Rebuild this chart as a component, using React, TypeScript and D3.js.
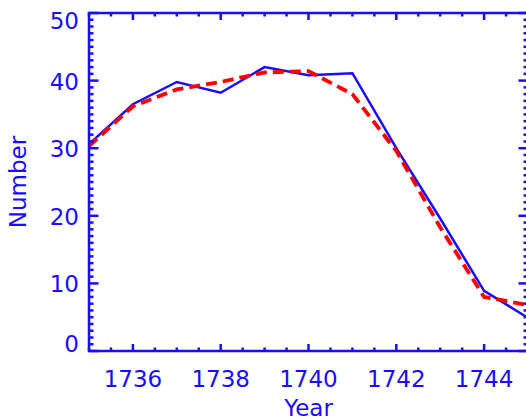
import React from "react";
import * as d3 from "d3";

const years = [1735, 1736, 1737, 1738, 1739, 1740, 1741, 1742, 1743, 1744, 1745];
const observed = [30.6, 36.5, 39.8, 38.2, 42.0, 40.8, 41.1, 30.0, 19.6, 8.9, 4.9];
const smoothed = [30.3, 36.2, 38.7, 39.8, 41.2, 41.4, 38.0, 29.6, 18.3, 8.0, 6.8];
const xTickLabels = [1736, 1738, 1740, 1742, 1744];
const yTickLabels = [0, 10, 20, 30, 40, 50];

const W = 526, H = 420;
const left = 89, right = 528, top = 13, bottom = 351;
const BLUE = "#1a0dff";
const RED = "#ff0000";
const FONT = "DejaVu Sans";

export default function App() {
  const x = d3.scaleLinear().domain([1735, 1745]).range([left, right]);
  const y = d3.scaleLinear().domain([0, 50]).range([bottom, top]);
  const line = d3.line<number>().x((_, i) => x(years[i])).y((d) => y(d));

  const xMinor = d3.range(1735, 1745.01, 0.5);
  const yMinor = d3.range(0, 50.01, 1);
  const xMajLen = 7, xMinLen = 3.5, yMajLen = 9.5, yMinLen = 4.5;

  const yLabelPos = (v: number) => {
    if (v === 50) return y(v) + 16;
    if (v === 0) return y(v) + 1;
    return y(v) + 9;
  };

  return (
    <svg width={W} height={H} style={{ position: "absolute", left: 0, top: 0 }}>
      <rect width={W} height={H} fill="white" />
      <defs>
        <clipPath id="plot">
          <rect x={left} y={top} width={right - left} height={bottom - top} />
        </clipPath>
      </defs>
      <g clipPath="url(#plot)">
        <path d={line(observed) || ""} fill="none" stroke={BLUE} strokeWidth={2.5} strokeLinejoin="miter" />
        <path d={line(smoothed) || ""} fill="none" stroke={RED} strokeWidth={3.8} strokeDasharray="11 6" />
      </g>
      <g stroke={BLUE} strokeWidth={2.5}>
        <rect x={left} y={top} width={right - left} height={bottom - top} fill="none" />
        {xMinor.map((v) => {
          const isMaj = xTickLabels.includes(v);
          const len = isMaj ? xMajLen : xMinLen;
          return (
            <g key={"xt" + v}>
              <line x1={x(v)} x2={x(v)} y1={bottom} y2={bottom - len} />
              <line x1={x(v)} x2={x(v)} y1={top} y2={top + len} />
            </g>
          );
        })}
        {yMinor.map((v) => {
          const isMaj = v % 10 === 0;
          const len = isMaj ? yMajLen : yMinLen;
          return (
            <g key={"yt" + v}>
              <line x1={left} x2={left + len} y1={y(v)} y2={y(v)} />
              <line x1={right} x2={right - len} y1={y(v)} y2={y(v)} />
            </g>
          );
        })}
      </g>
      <g fill={BLUE} fontFamily={FONT} fontSize={23}>
        {xTickLabels.map((v) => (
          <text key={"xl" + v} x={x(v)} y={387} textAnchor="middle">{v}</text>
        ))}
        {yTickLabels.map((v) => (
          <text key={"yl" + v} x={79} y={yLabelPos(v)} textAnchor="end">{v}</text>
        ))}
        <text x={(left + right) / 2} y={416} textAnchor="middle">Year</text>
        <text transform={`translate(26,${(top + bottom) / 2}) rotate(-90)`} textAnchor="middle">Number</text>
      </g>
    </svg>
  );
}
